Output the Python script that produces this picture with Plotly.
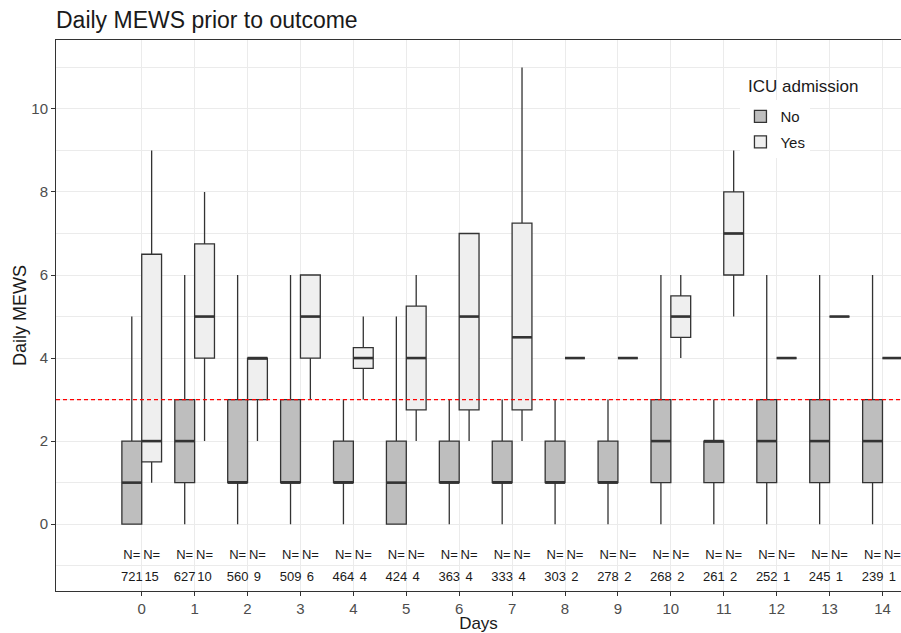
import plotly.graph_objects as go

# Day index since admission
days = list(range(15))

# Summary statistics of daily MEWS, patients without ICU admission
no_low = [0, 0, 0, 0, 0, 0, 0, 0, 0, 0, 0, 0, 0, 0, 0]
no_q1 = [0, 1, 1, 1, 1, 0, 1, 1, 1, 1, 1, 1, 1, 1, 1]
no_median = [1, 2, 1, 1, 1, 1, 1, 1, 1, 1, 2, 2, 2, 2, 2]
no_q3 = [2, 3, 3, 3, 2, 2, 2, 2, 2, 2, 3, 2, 3, 3, 3]
no_high = [5, 6, 6, 6, 3, 5, 3, 3, 3, 3, 6, 3, 6, 6, 6]
no_n = [721, 627, 560, 509, 464, 424, 363, 333, 303, 278, 268, 261, 252, 245, 239]

# Summary statistics of daily MEWS, patients with ICU admission
yes_low = [1, 2, 2, 3, 3, 2, 2, 2, 4, 4, 4, 5, 4, 5, 4]
yes_q1 = [1.5, 4, 3, 4, 3.75, 2.75, 2.75, 2.75, 4, 4, 4.5, 6, 4, 5, 4]
yes_median = [2, 5, 4, 5, 4, 4, 5, 4.5, 4, 4, 5, 7, 4, 5, 4]
yes_q3 = [6.5, 6.75, 4, 6, 4.25, 5.25, 7, 7.25, 4, 4, 5.5, 8, 4, 5, 4]
yes_high = [9, 8, 4, 6, 5, 6, 7, 11, 4, 4, 6, 9, 4, 5, 4]
yes_n = [15, 10, 9, 6, 4, 4, 4, 4, 2, 2, 2, 2, 1, 1, 1]

tick_days = days
y_ticks = [0, 2, 4, 6, 8, 10]
mews_threshold = 3

# dodge layout: two boxes share 0.75 of each day slot
DODGE = 0.1875
HALF = 0.1875
OUTLINE = "#333333"
GRID = "#EBEBEB"
FONT = "Liberation Sans, Arial, sans-serif"

groups = [
    ("No", -DODGE, "#BEBEBE", no_low, no_q1, no_median, no_q3, no_high, no_n),
    ("Yes", DODGE, "#EFEFEF", yes_low, yes_q1, yes_median, yes_q3, yes_high, yes_n),
]

fig = go.Figure()

for name, off, fill, lo, q1, med, q3, hi, n in groups:
    fig.add_trace(go.Box(
        name=name,
        x=days,
        lowerfence=lo,
        q1=q1,
        median=med,
        q3=q3,
        upperfence=hi,
        fillcolor=fill,
        line=dict(color=OUTLINE, width=1.3),
        whiskerwidth=0,
        boxpoints=False,
        offsetgroup=name,
        legendgroup=name,
        hoverinfo="skip",
    ))

for name, off, fill, lo, q1, med, q3, hi, n in groups:
    # thicker median bar drawn over each box
    mx, my = [], []
    for d, m in zip(days, med):
        mx += [d + off - HALF, d + off + HALF, None]
        my += [m, m, None]
    fig.add_trace(go.Scatter(
        x=mx, y=my, mode="lines",
        line=dict(color=OUTLINE, width=2.6),
        showlegend=False, hoverinfo="skip",
    ))
    # sample size labels under each box
    xs = [d + off for d in days]
    fig.add_trace(go.Scatter(
        x=xs, y=[-0.77] * len(days), mode="text",
        text=["N="] * len(days),
        textfont=dict(family=FONT, size=13, color="#1a1a1a"),
        showlegend=False, hoverinfo="skip",
    ))
    fig.add_trace(go.Scatter(
        x=xs, y=[-1.28] * len(days), mode="text",
        text=[str(v) for v in n],
        textfont=dict(family=FONT, size=13, color="#1a1a1a"),
        showlegend=False, hoverinfo="skip",
    ))

fig.add_hline(y=mews_threshold, layer="above",
              line=dict(color="#FF0000", width=1.4, dash="4px,3px"))

# legend heading placed as its own label above the keys
fig.add_annotation(
    text="ICU admission", xref="paper", yref="paper",
    x=0.816, y=(590.7 - 86) / 550.7, xanchor="left", yanchor="middle",
    showarrow=False, font=dict(family=FONT, size=17, color="#1a1a1a"),
)

fig.update_layout(
    width=901,
    height=633,
    margin=dict(l=56, r=0, t=40, b=42, autoexpand=False),
    paper_bgcolor="white",
    plot_bgcolor="white",
    boxmode="group",
    boxgap=0.25,
    boxgroupgap=0,
    font=dict(family=FONT, color="#1a1a1a"),
    title=dict(
        text="Daily MEWS prior to outcome",
        font=dict(family=FONT, size=23, color="#1a1a1a"),
        x=0, xref="paper", xanchor="left",
        y=1 - 20 / 633, yref="container", yanchor="middle",
    ),
    legend=dict(
        font=dict(family=FONT, size=15, color="#1a1a1a"),
        x=0.810, y=(590.7 - 100) / 550.7, xanchor="left", yanchor="top",
        bgcolor="white",
        tracegroupgap=3,
    ),
    showlegend=True,
)

fig.update_xaxes(
    range=[-1.62, 14.35],
    tickmode="array",
    tickvals=tick_days,
    ticktext=[str(d) for d in tick_days],
    showgrid=True, gridcolor=GRID, gridwidth=1,
    zeroline=False,
    showline=True, linecolor=OUTLINE, linewidth=1, mirror=True,
    ticks="outside", ticklen=4, tickcolor=OUTLINE,
    tickfont=dict(family=FONT, size=15, color="#4d4d4d"),
    title=dict(text="Days", font=dict(family=FONT, size=17, color="#1a1a1a"), standoff=8),
    automargin=False,
)

fig.update_yaxes(
    range=[-1.61, 11.66],
    tickmode="array",
    tickvals=y_ticks,
    showgrid=True, gridcolor=GRID, gridwidth=1.2,
    minor=dict(dtick=1, tick0=0, showgrid=True, gridcolor=GRID, gridwidth=0.8, ticks=""),
    zeroline=False,
    showline=True, linecolor=OUTLINE, linewidth=1, mirror=False,
    ticks="outside", ticklen=4, tickcolor=OUTLINE,
    tickfont=dict(family=FONT, size=15, color="#4d4d4d"),
    title=dict(text="Daily MEWS", font=dict(family=FONT, size=18, color="#1a1a1a"), standoff=0),
    automargin=False,
)

fig.write_html("out.html")
